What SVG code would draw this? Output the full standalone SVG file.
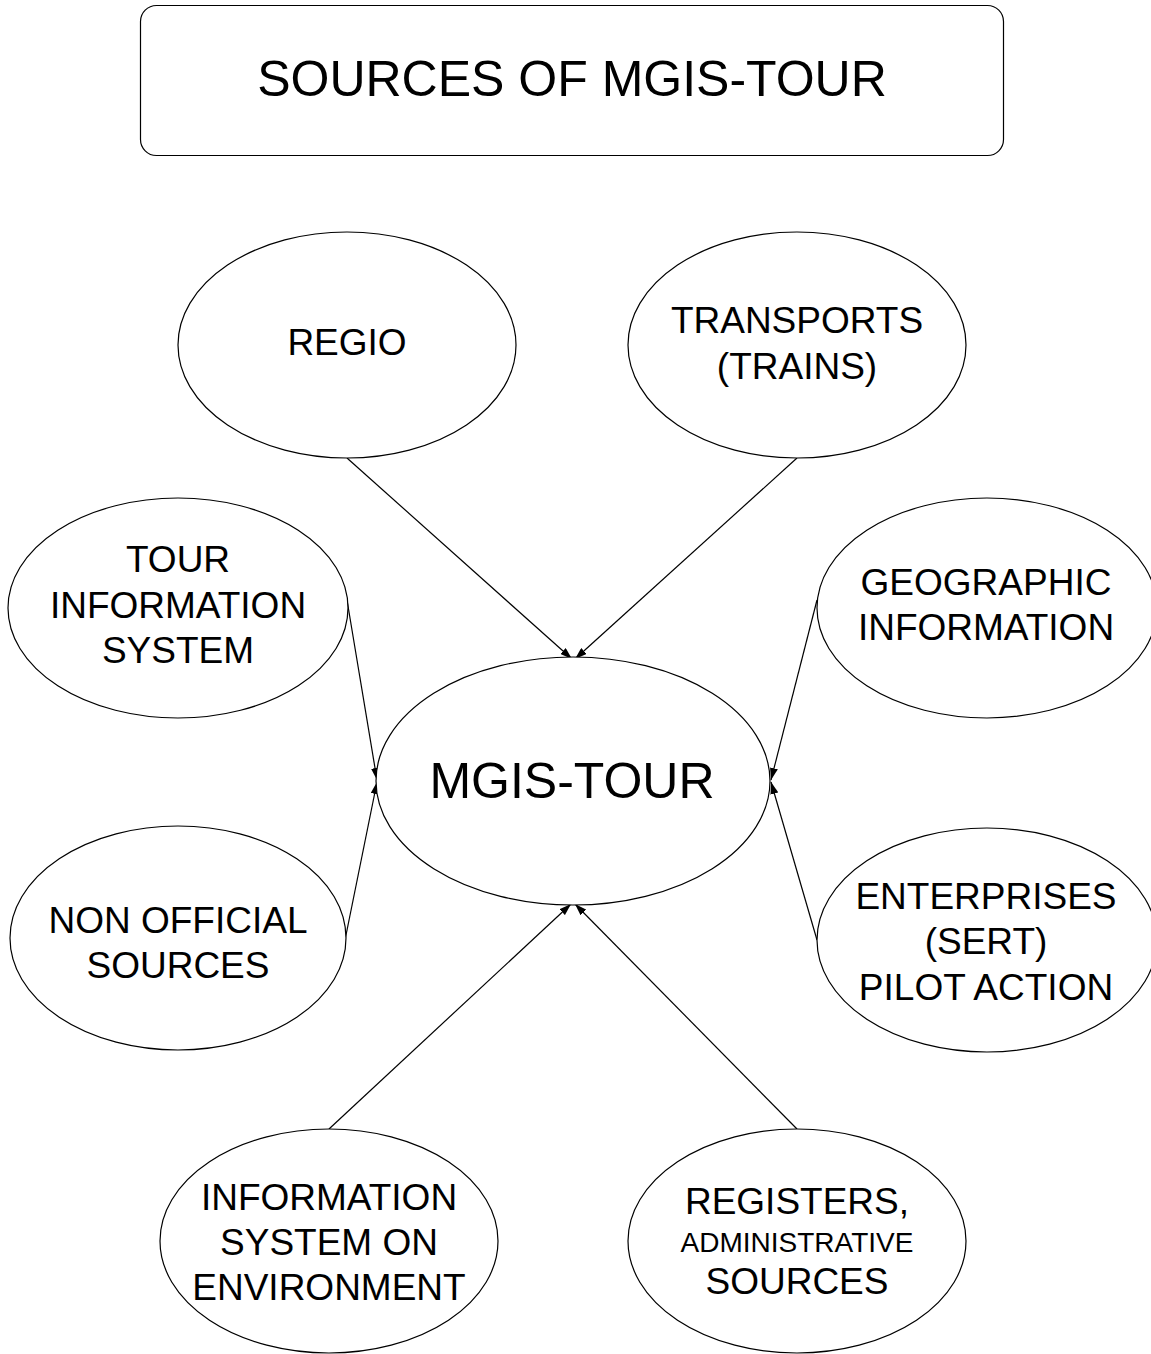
<svg xmlns="http://www.w3.org/2000/svg" width="1151" height="1354" viewBox="0 0 1151 1354">
<style>
.n{fill:#fff;stroke:#000;stroke-width:1.2}
.t{font-family:"Liberation Sans",Arial,sans-serif;fill:#000;text-anchor:middle;font-size:37px}
.big{font-size:50px}
.c line{stroke:#000;stroke-width:1.2}
</style>
<defs>
<marker id="ah" viewBox="0 0 12 8" refX="12" refY="4" markerWidth="12" markerHeight="8" markerUnits="userSpaceOnUse" orient="auto">
<path d="M0,0 L12,4 L0,8 Z" fill="#000"/>
</marker>
</defs>
<rect width="1151" height="1354" fill="#fff"/>
<g id="title">
<rect class="n" x="140.5" y="5.5" width="863" height="150" rx="16"/>
<text class="t big" x="572" y="96">SOURCES OF MGIS-TOUR</text>
</g>
<g class="c" id="connectors">
<line x1="347" y1="458" x2="572" y2="659" marker-end="url(#ah)"/>
<line x1="797" y1="458" x2="575" y2="659" marker-end="url(#ah)"/>
<line x1="347" y1="600" x2="377" y2="780" marker-end="url(#ah)"/>
<line x1="345" y1="940" x2="377" y2="782" marker-end="url(#ah)"/>
<line x1="817" y1="600" x2="771" y2="780" marker-end="url(#ah)"/>
<line x1="817" y1="940" x2="771" y2="782" marker-end="url(#ah)"/>
<line x1="329" y1="1129" x2="571" y2="904" marker-end="url(#ah)"/>
<line x1="797" y1="1129" x2="575" y2="904" marker-end="url(#ah)"/>
</g>
<g id="regio">
<ellipse class="n" cx="347" cy="345" rx="169" ry="113"/>
<text class="t" x="347" y="355">REGIO</text>
</g>
<g id="transports">
<ellipse class="n" cx="797" cy="345" rx="169" ry="113"/>
<text class="t" x="797" y="333">TRANSPORTS</text>
<text class="t" x="797" y="379">(TRAINS)</text>
</g>
<g id="tour-info">
<ellipse class="n" cx="178" cy="608" rx="170" ry="110"/>
<text class="t" x="178" y="572">TOUR</text>
<text class="t" x="178" y="618">INFORMATION</text>
<text class="t" x="178" y="663">SYSTEM</text>
</g>
<g id="non-official">
<ellipse class="n" cx="178" cy="938" rx="168" ry="112"/>
<text class="t" x="178" y="933">NON OFFICIAL</text>
<text class="t" x="178" y="978">SOURCES</text>
</g>
<g id="geographic">
<ellipse class="n" cx="987" cy="608" rx="170" ry="110"/>
<text class="t" x="986" y="595">GEOGRAPHIC</text>
<text class="t" x="986" y="640">INFORMATION</text>
</g>
<g id="enterprises">
<ellipse class="n" cx="987" cy="940" rx="170" ry="112"/>
<text class="t" x="986" y="909">ENTERPRISES</text>
<text class="t" x="986" y="954">(SERT)</text>
<text class="t" x="986" y="1000">PILOT ACTION</text>
</g>
<g id="mgis-tour">
<ellipse class="n" cx="573" cy="781" rx="197" ry="124"/>
<text class="t big" x="572" y="798">MGIS-TOUR</text>
</g>
<g id="info-env">
<ellipse class="n" cx="329" cy="1241" rx="169" ry="112"/>
<text class="t" x="329" y="1210">INFORMATION</text>
<text class="t" x="329" y="1255">SYSTEM ON</text>
<text class="t" x="329" y="1300">ENVIRONMENT</text>
</g>
<g id="registers">
<ellipse class="n" cx="797" cy="1241" rx="169" ry="112"/>
<text class="t" x="797" y="1214">REGISTERS,</text>
<text class="t" x="797" y="1252" style="font-size:28px">ADMINISTRATIVE</text>
<text class="t" x="797" y="1294">SOURCES</text>
</g>
</svg>
